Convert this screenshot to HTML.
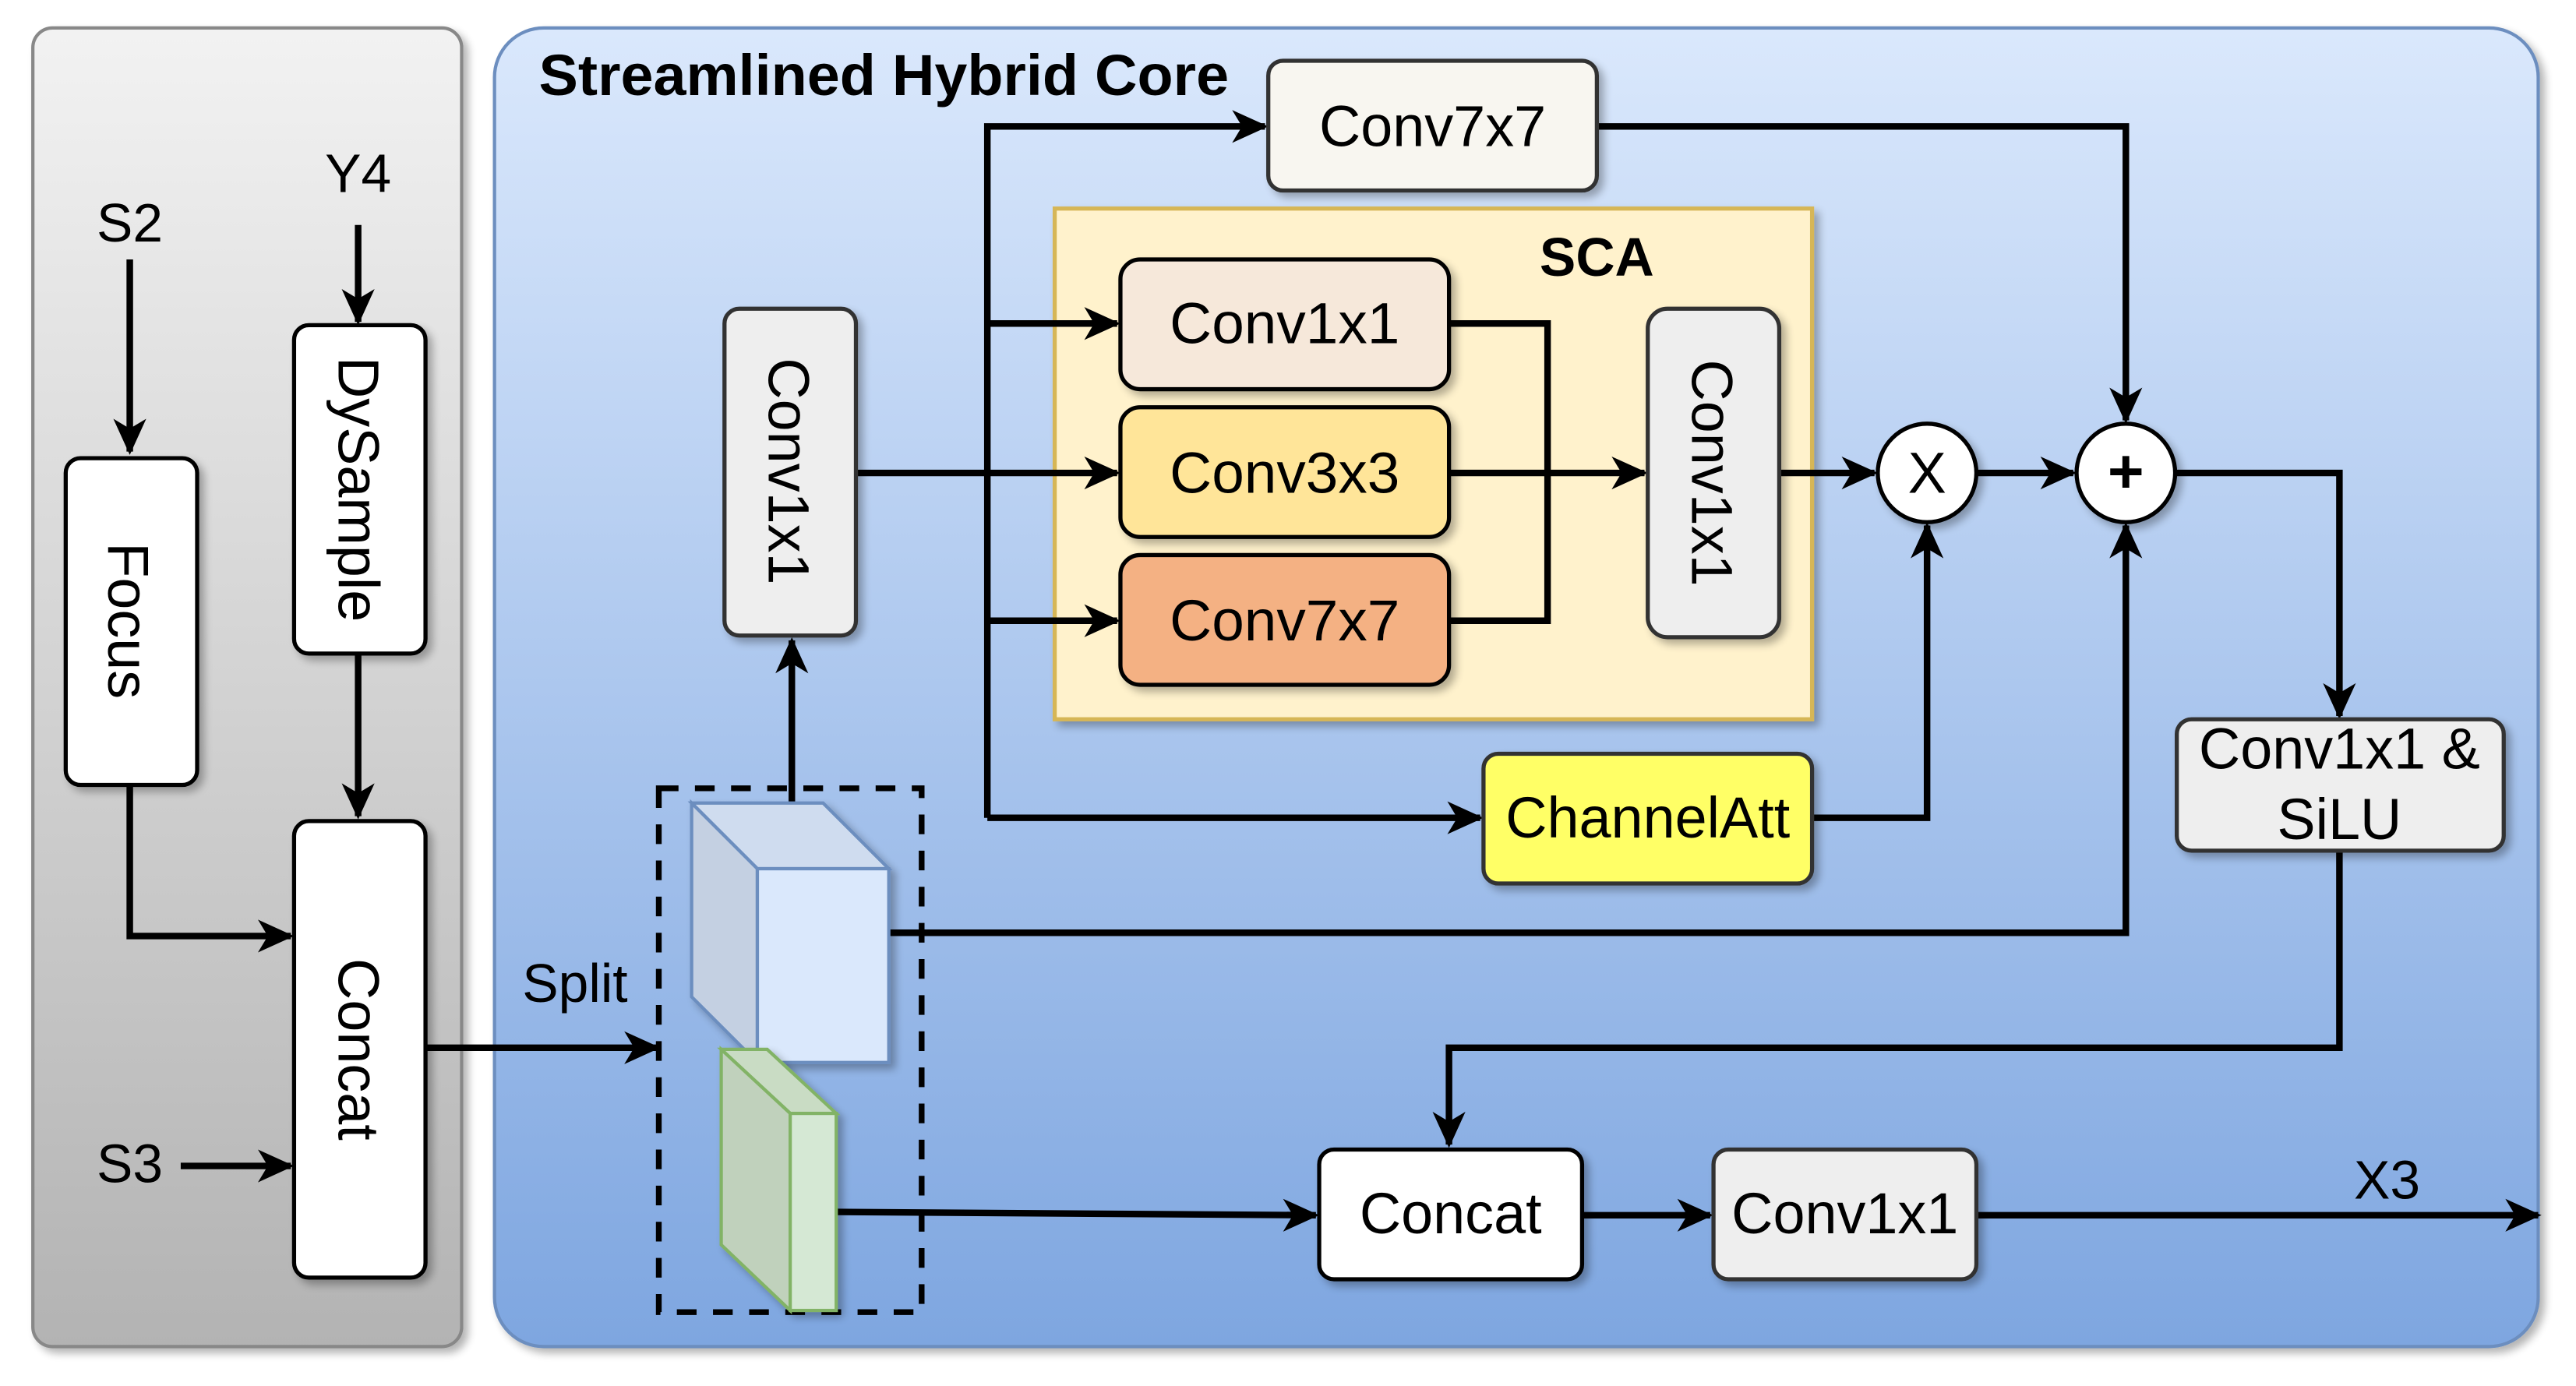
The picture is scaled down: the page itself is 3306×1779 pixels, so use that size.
<!DOCTYPE html>
<html><head><meta charset="utf-8"><style>
html,body{margin:0;padding:0;background:#fff;}
svg{display:block;}
text{font-family:"Liberation Sans",sans-serif;fill:#000;}
</style></head><body>
<svg width="3306" height="1779" viewBox="0 0 1568 844" preserveAspectRatio="none" xmlns="http://www.w3.org/2000/svg">
<defs>
<linearGradient id="gl" x1="0" y1="0" x2="0" y2="1"><stop offset="0" stop-color="#f2f2f2"/><stop offset="1" stop-color="#b3b3b3"/></linearGradient>
<linearGradient id="gr" x1="0" y1="0" x2="0" y2="1"><stop offset="0" stop-color="#dae8fc"/><stop offset="1" stop-color="#7ea6e0"/></linearGradient>
<filter id="sh" x="-10%" y="-10%" width="130%" height="130%"><feGaussianBlur in="SourceAlpha" stdDeviation="2.5"/><feOffset dx="3" dy="3"/><feComponentTransfer><feFuncA type="linear" slope="0.3"/></feComponentTransfer><feMerge><feMergeNode/><feMergeNode in="SourceGraphic"/></feMerge></filter>
</defs>
<rect x="20" y="17" width="261" height="803" rx="12" fill="url(#gl)" stroke="#888" stroke-width="2" filter="url(#sh)"/>
<rect x="301" y="17" width="1244" height="803" rx="30" fill="url(#gr)" stroke="#6c8ebf" stroke-width="2" filter="url(#sh)"/>
<rect x="642" y="127" width="461" height="311" fill="#fff2cc" stroke="#d6b656" stroke-width="2.5" filter="url(#sh)"/>
<text x="328" y="58" font-size="35" font-weight="bold" textLength="420" lengthAdjust="spacingAndGlyphs">Streamlined Hybrid Core</text>

<g fill="none" stroke="#000" stroke-width="4">
<path d="M79,158 V275"/>
<path d="M218,137 V196"/>
<path d="M218,398 V497"/>
<path d="M79,478 V570 H177"/>
<path d="M110,710 H177"/>
<path d="M259,638 H400"/>
<path d="M482,489 V390"/>
<path d="M521,288 H680"/>
<path d="M601,498 V77 H770"/>
<path d="M601,197 H680"/>
<path d="M601,378 H680"/>
<path d="M601,498 H901"/>
<path d="M882,197 H942 V378 H882"/>
<path d="M882,288 H1001"/>
<path d="M1083,288 H1141"/>
<path d="M1203,288 H1262"/>
<path d="M972,77 H1294 V256"/>
<path d="M1103,498 H1173 V320"/>
<path d="M541,568 H1294 V320"/>
<path d="M1324,288 H1424 V436"/>
<path d="M1424,518 V638 H882 V697"/>
<path d="M509,738 L801,740"/>
<path d="M963,740 H1041"/>
<path d="M1203,740 H1545"/>
</g>
<g fill="#000">
<path d="M79,277 l-10,-22 l10,6 l10,-6z"/>
<path d="M218,198 l-10,-22 l10,6 l10,-6z"/>
<path d="M218,499 l-10,-22 l10,6 l10,-6z"/>
<path d="M179,570 l-22,-10 l6,10 l-6,10z"/>
<path d="M179,710 l-22,-10 l6,10 l-6,10z"/>
<path d="M402,638 l-22,-10 l6,10 l-6,10z"/>
<path d="M482,388 l-10,22 l10,-6 l10,6z"/>
<path d="M772,77 l-22,-10 l6,10 l-6,10z"/>
<path d="M682,197 l-22,-10 l6,10 l-6,10z"/>
<path d="M682,288 l-22,-10 l6,10 l-6,10z"/>
<path d="M682,378 l-22,-10 l6,10 l-6,10z"/>
<path d="M903,498 l-22,-10 l6,10 l-6,10z"/>
<path d="M1003,288 l-22,-10 l6,10 l-6,10z"/>
<path d="M1143,288 l-22,-10 l6,10 l-6,10z"/>
<path d="M1264,288 l-22,-10 l6,10 l-6,10z"/>
<path d="M1294,258 l-10,-22 l10,6 l10,-6z"/>
<path d="M1173,318 l-10,22 l10,-6 l10,6z"/>
<path d="M1294,318 l-10,22 l10,-6 l10,6z"/>
<path d="M1424,438 l-10,-22 l10,6 l10,-6z"/>
<path d="M882,699 l-10,-22 l10,6 l10,-6z"/>
<path d="M803,740 l-22,-10 l6,10 l-6,10z"/>
<path d="M1043,740 l-22,-10 l6,10 l-6,10z"/>
<path d="M1547,740 l-22,-10 l6,10 l-6,10z"/>
</g>

<g font-size="33">
<text x="79" y="147" text-anchor="middle">S2</text>
<text x="218" y="117" text-anchor="middle">Y4</text>
<text x="79" y="720" text-anchor="middle">S3</text>
<text x="350" y="610" text-anchor="middle">Split</text>
<text x="1453" y="730" text-anchor="middle">X3</text>
</g>

<g stroke="#000" stroke-width="2.5" filter="url(#sh)">
<rect x="40" y="279" width="80" height="199" rx="9" fill="#fff"/>
<rect x="179" y="198" width="80" height="200" rx="9" fill="#fff"/>
<rect x="179" y="500" width="80" height="278" rx="9" fill="#fff"/>
<rect x="441" y="188" width="80" height="199" rx="9" fill="#eeeeee" stroke="#333"/>
<rect x="772" y="37" width="200" height="79" rx="9" fill="#f8f6f0" stroke="#333"/>
<rect x="903" y="459" width="200" height="79" rx="9" fill="#ffff66" stroke="#333"/>
<rect x="1325" y="438" width="199" height="80" rx="9" fill="#eeeeee" stroke="#333"/>
<rect x="803" y="700" width="160" height="79" rx="9" fill="#fff"/>
<rect x="1043" y="700" width="160" height="79" rx="9" fill="#eeeeee" stroke="#333"/>
<rect x="682" y="158" width="200" height="79" rx="12" fill="#f6e8da"/>
<rect x="682" y="248" width="200" height="79" rx="12" fill="#ffe599"/>
<rect x="682" y="338" width="200" height="79" rx="12" fill="#f4b183"/>
<rect x="1003" y="188" width="80" height="200" rx="12" fill="#eeeeee" stroke="#333"/>
<circle cx="1173" cy="288" r="30" fill="#fff"/>
<circle cx="1294" cy="288" r="30" fill="#fff"/>
</g>
<text x="972" y="168" font-size="33" font-weight="bold" text-anchor="middle">SCA</text>

<rect x="401" y="480" width="160" height="319" fill="none" stroke="#000" stroke-width="3.5" stroke-dasharray="12,10"/>
<g stroke="#6c8ebf" stroke-width="2" filter="url(#sh)">
<polygon points="421,489 501,489 541,529 461,529" fill="#cfdcef"/>
<polygon points="421,489 461,529 461,647 421,607" fill="#c4d0e2"/>
<rect x="461" y="529" width="80" height="118" fill="#dae8fc"/>
</g>
<g stroke="#82b366" stroke-width="2" filter="url(#sh)">
<polygon points="439,639 467,639 509,678 481,678" fill="#c9dcc4"/>
<polygon points="439,639 481,678 481,798 439,758" fill="#c0d1bc"/>
<rect x="481" y="678" width="28" height="120" fill="#d5e8d4"/>
</g>

<g font-size="35">
<text transform="translate(66,378) rotate(90)" text-anchor="middle">Focus</text>
<text transform="translate(206,298) rotate(90)" text-anchor="middle">DySample</text>
<text transform="translate(206,639) rotate(90)" text-anchor="middle">Concat</text>
<text transform="translate(468,287) rotate(90)" text-anchor="middle">Conv1x1</text>
<text transform="translate(1030,288) rotate(90)" text-anchor="middle">Conv1x1</text>
<text x="872" y="89" text-anchor="middle">Conv7x7</text>
<text x="782" y="209" text-anchor="middle" textLength="140" lengthAdjust="spacingAndGlyphs">Conv1x1</text>
<text x="782" y="300" text-anchor="middle" textLength="140" lengthAdjust="spacingAndGlyphs">Conv3x3</text>
<text x="782" y="390" text-anchor="middle" textLength="140" lengthAdjust="spacingAndGlyphs">Conv7x7</text>
<text x="1003" y="510" text-anchor="middle">ChannelAtt</text>
<text x="1424" y="468" text-anchor="middle">Conv1x1 &amp;</text>
<text x="1424" y="511" text-anchor="middle">SiLU</text>
<text x="883" y="751" text-anchor="middle">Concat</text>
<text x="1123" y="751" text-anchor="middle">Conv1x1</text>
<text x="1173" y="300" text-anchor="middle">X</text>
<text x="1294" y="300" text-anchor="middle" font-size="38" font-weight="bold">+</text>
</g>
</svg>
</body></html>
